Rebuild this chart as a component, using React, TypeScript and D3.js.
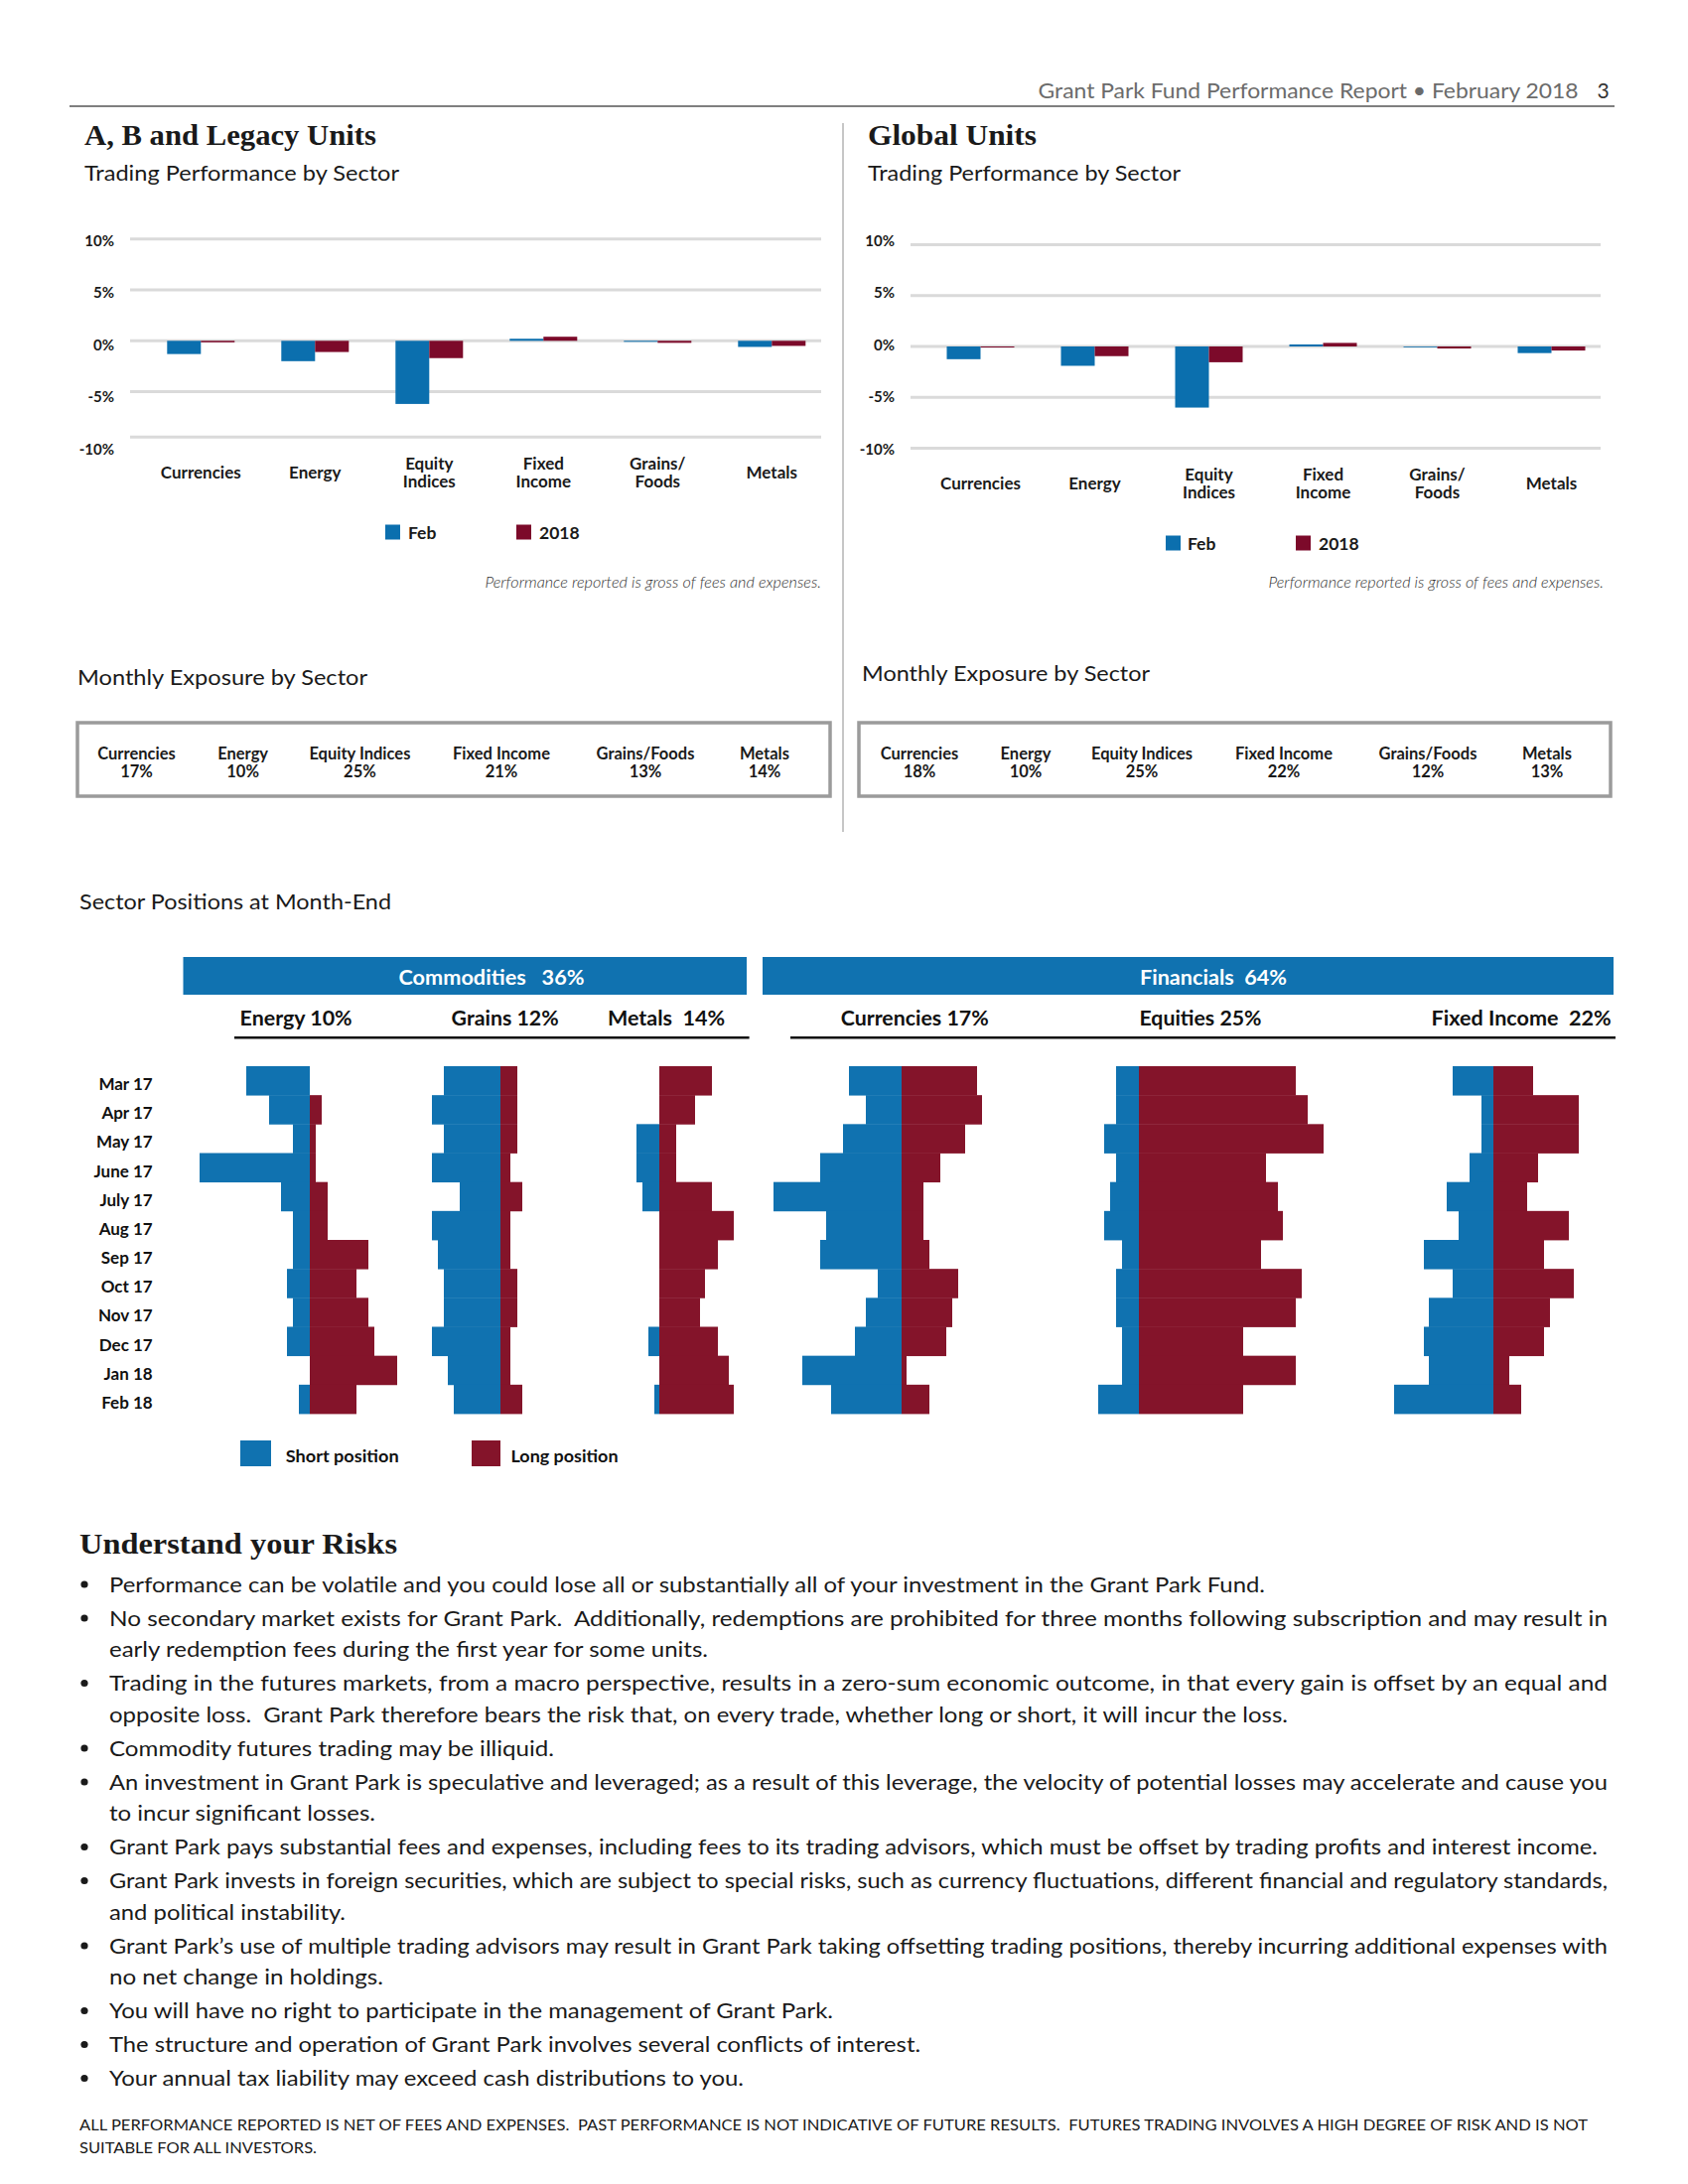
import React from "react";
import * as d3 from "d3";

const SANS = "Lato, 'Open Sans', 'DejaVu Sans', sans-serif";
const SERIF = "'Liberation Serif', 'DejaVu Serif', serif";

// ---------------- data ----------------
const PERF_SECTORS = ["Currencies", "Energy", "Equity Indices", "Fixed Income", "Grains/Foods", "Metals"];
const PERF_LABEL_LINES = [["Currencies"], ["Energy"], ["Equity", "Indices"], ["Fixed", "Income"], ["Grains/", "Foods"], ["Metals"]];
const PERF_SERIES = ["Feb", "2018"];
const AB_FEB = [-1.3, -2.0, -6.2, 0.2, -0.1, -0.6];
const AB_YTD = [-0.15, -1.1, -1.7, 0.4, -0.2, -0.5];
const GL_FEB = [-1.25, -1.9, -6.0, 0.2, -0.05, -0.65];
const GL_YTD = [-0.1, -0.95, -1.55, 0.35, -0.2, -0.4];
const PERF_TICKS = [10, 5, 0, -5, -10];

const EXPOSURE_SECTORS = ["Currencies", "Energy", "Equity Indices", "Fixed Income", "Grains/Foods", "Metals"];
const AB_EXPOSURE = [17, 10, 25, 21, 13, 14];
const GL_EXPOSURE = [18, 10, 25, 22, 12, 13];

const MONTHS = ["Mar 17", "Apr 17", "May 17", "June 17", "July 17", "Aug 17", "Sep 17", "Oct 17", "Nov 17", "Dec 17", "Jan 18", "Feb 18"];
const GROUPS = ["Commodities", "Financials"];
const GROUP_PCT = [36, 64];
const POS_SECTORS = ["Energy", "Grains", "Metals", "Currencies", "Equities", "Fixed Income"];
const POS_PCT = [10, 12, 14, 17, 25, 22];
const ENERGY_SHORT = [6.4, 4.1, 1.7, 11.1, 2.9, 1.7, 1.7, 2.3, 1.7, 2.3, 0, 1.1];
const ENERGY_LONG = [0, 1.2, 0.6, 0.6, 1.8, 1.8, 5.9, 4.7, 5.9, 6.5, 8.8, 4.7];
const GRAINS_SHORT = [5.7, 6.9, 5.7, 6.9, 4.1, 6.9, 6.3, 5.7, 5.7, 6.9, 5.3, 4.7];
const GRAINS_LONG = [1.7, 1.7, 1.7, 1.0, 2.2, 1.0, 1.0, 1.7, 1.7, 1.0, 1.0, 2.2];
const METALS_SHORT = [0, 0, 2.3, 2.3, 1.7, 0, 0, 0, 0, 1.1, 0, 0.5];
const METALS_LONG = [5.3, 3.6, 1.7, 1.7, 5.3, 7.5, 5.9, 4.6, 4.1, 5.9, 7.0, 7.5];
const CURRENCIES_SHORT = [5.3, 3.6, 5.9, 8.2, 12.9, 7.6, 8.2, 2.4, 3.6, 4.7, 10.0, 7.1];
const CURRENCIES_LONG = [7.6, 8.1, 6.4, 3.9, 2.2, 2.2, 2.8, 5.7, 5.1, 4.5, 0.5, 2.8];
const EQUITIES_SHORT = [2.3, 2.3, 3.5, 2.3, 2.9, 3.5, 1.7, 2.3, 2.3, 1.7, 1.7, 4.1];
const EQUITIES_LONG = [15.8, 17.0, 18.6, 12.8, 14.0, 14.5, 12.3, 16.4, 15.8, 10.5, 15.8, 10.5];
const FIXED_SHORT = [4.1, 1.2, 1.2, 2.4, 4.7, 3.5, 7.0, 4.1, 6.5, 7.0, 6.5, 10.0];
const FIXED_LONG = [4.0, 8.6, 8.6, 4.5, 3.4, 7.6, 5.1, 8.1, 5.7, 5.1, 1.6, 2.8];
const POS_LEGEND = ["Short position", "Long position"];

const RISK_PARAGRAPHS = [
  ["Performance can be volatile and you could lose all or substantially all of your investment in the Grant Park Fund."],
  ["No secondary market exists for Grant Park.  Additionally, redemptions are prohibited for three months following subscription and may result in", "early redemption fees during the first year for some units."],
  ["Trading in the futures markets, from a macro perspective, results in a zero-sum economic outcome, in that every gain is offset by an equal and", "opposite loss.  Grant Park therefore bears the risk that, on every trade, whether long or short, it will incur the loss."],
  ["Commodity futures trading may be illiquid."],
  ["An investment in Grant Park is speculative and leveraged; as a result of this leverage, the velocity of potential losses may accelerate and cause you", "to incur significant losses."],
  ["Grant Park pays substantial fees and expenses, including fees to its trading advisors, which must be offset by trading profits and interest income."],
  ["Grant Park invests in foreign securities, which are subject to special risks, such as currency fluctuations, different financial and regulatory standards,", "and political instability."],
  ["Grant Park\u2019s use of multiple trading advisors may result in Grant Park taking offsetting trading positions, thereby incurring additional expenses with", "no net change in holdings."],
  ["You will have no right to participate in the management of Grant Park."],
  ["The structure and operation of Grant Park involves several conflicts of interest."],
  ["Your annual tax liability may exceed cash distributions to you."],
];
const DISCLAIMER = [
  "ALL PERFORMANCE REPORTED IS NET OF FEES AND EXPENSES.  PAST PERFORMANCE IS NOT INDICATIVE OF FUTURE RESULTS.  FUTURES TRADING INVOLVES A HIGH DEGREE OF RISK AND IS NOT",
  "SUITABLE FOR ALL INVESTORS.",
];

// ---------------- layout / style ----------------
const BLUE_T = "#0b6fae";
const RED_T = "#7c0a2a";
const BLUE = "#1072b0";
const RED = "#84142a";
const GRID = "#dadada";
const INK = "#1a1a1a";

const AB_CFG = {
  gridX: [131, 827], points: [202.3, 777.3], y0: 343.3, axisMin: -9.45, labelRight: 115,
  labelRange: [452, 241.7],
  catY: 475.7, catY2: [466.7, 484.3],
  legend: { sq1: 388, t1: 411, sq2: 520, t2: 543, y: 536 },
  foot: { x: 488.4, w: 338.6, y: 592 },
};
const GL_CFG = {
  gridX: [917, 1612], points: [987.5, 1562.5], y0: 349, axisMin: -10, labelRight: 901,
  labelRange: [452, 241.7],
  catY: 486.7, catY2: [477, 495],
  legend: { sq1: 1174, t1: 1196, sq2: 1305, t2: 1328, y: 547 },
  foot: { x: 1277.5, w: 337.5, y: 592 },
};
const PX_PER_PCT = 10.26;

const EXPO_AB = { box: [78, 728, 836, 802], centers: [137.5, 244.6, 362.4, 505, 650, 770] };
const EXPO_GL = { box: [865, 728, 1622, 802], centers: [926, 1033, 1150, 1293, 1438, 1558] };

const ROW_RANGE = [1074, 1424];
const ZERO_X = [312, 504, 664, 908, 1147, 1504];
const SUB_HEAD = [
  { x: 241.6, w: 113, sep: " " }, { x: 454.6, w: 108, sep: " " }, { x: 612, w: 118, sep: "  " },
  { x: 846.7, w: 149, sep: " " }, { x: 1147.5, w: 123, sep: " " }, { x: 1441.6, w: 181, sep: "  " },
];
const GROUP_BARS = [
  { x0: 184.5, x1: 752, tx: 495, tw: 187 },
  { x0: 768, x1: 1625, tx: 1222, tw: 148 },
];
const UNDERLINES = [[236, 754.6], [796, 1627]];

const RISK_LINE_ENDS = [1274, 1619, 713, 1619, 1297, 558, 1619, 378, 1609, 1619, 348, 1619, 386, 839, 927, 749];

function PerfChart({ cfg, feb, ytd }: any) {
  const y = d3.scaleLinear().domain([-10, 10]).range([cfg.y0 + PX_PER_PCT * 10, cfg.y0 - PX_PER_PCT * 10]);
  const yl = d3.scaleLinear().domain([-10, 10]).range(cfg.labelRange);
  const x = d3.scalePoint<string>().domain(PERF_SECTORS).range(cfg.points);
  const bw = 34;
  const gridVals = PERF_TICKS.filter((t) => t > cfg.axisMin).concat([cfg.axisMin]);
  const bar = (v: number, cx: number, color: string, key: string) => {
    const y0 = y(0), y1 = y(v);
    return <rect key={key} x={cx} y={Math.min(y0, y1)} width={bw} height={Math.max(0.8, Math.abs(y1 - y0))} fill={color} />;
  };
  return (
    <g>
      {gridVals.map((t, i) => (
        <line key={"g" + i} x1={cfg.gridX[0]} x2={cfg.gridX[1]} y1={y(t)} y2={y(t)} stroke={GRID} strokeWidth={3} />
      ))}
      {PERF_TICKS.map((t) => (
        <text key={"t" + t} x={cfg.labelRight} y={yl(t)} textAnchor="end" dominantBaseline="central"
          fontFamily={SANS} fontWeight={700} fontSize={15} fill={INK}>{t + "%"}</text>
      ))}
      {PERF_SECTORS.map((s, i) => {
        const cx = x(s) as number;
        return (
          <g key={s}>
            {bar(feb[i], cx - bw, BLUE_T, "f")}
            {bar(ytd[i], cx, RED_T, "y")}
          </g>
        );
      })}
      {PERF_SECTORS.map((s, i) => {
        const lines = PERF_LABEL_LINES[i];
        const cx = x(s) as number;
        return lines.map((ln, j) => (
          <text key={s + j} x={cx} y={lines.length === 1 ? cfg.catY : cfg.catY2[j]} textAnchor="middle" dominantBaseline="central"
            fontFamily={SANS} fontWeight={700} fontSize={17} fill={INK}>{ln}</text>
        ));
      })}
      <rect x={cfg.legend.sq1} y={cfg.legend.y - 7.5} width={15} height={15} fill={BLUE_T} />
      <text x={cfg.legend.t1} y={cfg.legend.y} dominantBaseline="central" fontFamily={SANS} fontWeight={700} fontSize={17.5} fill={INK}>{PERF_SERIES[0]}</text>
      <rect x={cfg.legend.sq2} y={cfg.legend.y - 7.5} width={15} height={15} fill={RED_T} />
      <text x={cfg.legend.t2} y={cfg.legend.y} dominantBaseline="central" fontFamily={SANS} fontWeight={700} fontSize={17.5} fill={INK}>{PERF_SERIES[1]}</text>
      <text x={cfg.foot.x} y={cfg.foot.y} textLength={cfg.foot.w} lengthAdjust="spacingAndGlyphs" fontFamily={SANS}
        fontStyle="italic" fontWeight={300} fontSize={16} fill="#333">Performance reported is gross of fees and expenses.</text>
    </g>
  );
}

function ExposureBox({ cfg, values }: any) {
  const [x0, y0, x1, y1] = cfg.box;
  return (
    <g>
      <rect x={x0} y={y0} width={x1 - x0} height={y1 - y0} fill="none" stroke="#9b9b9b" strokeWidth={3.5} />
      {EXPOSURE_SECTORS.map((s, i) => (
        <g key={s}>
          <text x={cfg.centers[i]} y={759} textAnchor="middle" dominantBaseline="central" fontFamily={SANS} fontWeight={700} fontSize={16.5} fill={INK}>{s}</text>
          <text x={cfg.centers[i]} y={777} textAnchor="middle" dominantBaseline="central" fontFamily={SANS} fontWeight={700} fontSize={16.5} fill={INK}>{values[i] + "%"}</text>
        </g>
      ))}
    </g>
  );
}

function Positions() {
  const yb = d3.scaleBand<string>().domain(MONTHS).range(ROW_RANGE as [number, number]).padding(0);
  const len = d3.scaleLinear().domain([0, 1]).range([0, 10]);
  const shorts = [ENERGY_SHORT, GRAINS_SHORT, METALS_SHORT, CURRENCIES_SHORT, EQUITIES_SHORT, FIXED_SHORT];
  const longs = [ENERGY_LONG, GRAINS_LONG, METALS_LONG, CURRENCIES_LONG, EQUITIES_LONG, FIXED_LONG];
  const h = yb.bandwidth();
  return (
    <g>
      <text x={80} y={916} textLength={314} lengthAdjust="spacingAndGlyphs" fontFamily={SANS} fontSize={22} fill={INK}>Sector Positions at Month-End</text>
      {GROUPS.map((g, i) => (
        <g key={g}>
          <rect x={GROUP_BARS[i].x0} y={964} width={GROUP_BARS[i].x1 - GROUP_BARS[i].x0} height={38} fill={BLUE} />
          <text x={GROUP_BARS[i].tx - GROUP_BARS[i].tw / 2} y={983.5} textLength={GROUP_BARS[i].tw} lengthAdjust="spacingAndGlyphs"
            dominantBaseline="central" fontFamily={SANS} fontWeight={700} fontSize={20} fill="#fff" style={{ whiteSpace: "pre" }}>
            {g + (i === 0 ? "   " : "  ") + GROUP_PCT[i] + "%"}
          </text>
        </g>
      ))}
      {POS_SECTORS.map((s, i) => (
        <text key={s} x={SUB_HEAD[i].x} y={1032.7} textLength={SUB_HEAD[i].w} lengthAdjust="spacingAndGlyphs"
          fontFamily={SANS} fontWeight={700} fontSize={21} fill="#111" style={{ whiteSpace: "pre" }}>
          {s + SUB_HEAD[i].sep + POS_PCT[i] + "%"}
        </text>
      ))}
      {UNDERLINES.map((u, i) => (
        <line key={i} x1={u[0]} x2={u[1]} y1={1045.3} y2={1045.3} stroke="#111" strokeWidth={2.5} />
      ))}
      {MONTHS.map((m) => (
        <text key={m} x={153.7} y={(yb(m) as number) + h / 2 + 3} textAnchor="end" dominantBaseline="central"
          fontFamily={SANS} fontWeight={700} fontSize={17} fill="#111">{m}</text>
      ))}
      {POS_SECTORS.map((s, i) => (
        <g key={s}>
          {MONTHS.map((m, j) => {
            const yy = yb(m) as number;
            const sv = len(shorts[i][j]);
            const lv = len(longs[i][j]);
            return (
              <g key={m}>
                {sv > 0 && <rect x={ZERO_X[i] - sv} y={yy} width={sv} height={h + 0.4} fill={BLUE} />}
                {lv > 0 && <rect x={ZERO_X[i]} y={yy} width={lv} height={h + 0.4} fill={RED} />}
              </g>
            );
          })}
        </g>
      ))}
      <rect x={242} y={1451} width={31} height={26} fill={BLUE} />
      <text x={287.7} y={1466} textLength={114} lengthAdjust="spacingAndGlyphs" dominantBaseline="central" fontFamily={SANS} fontWeight={700} fontSize={17} fill="#111">{POS_LEGEND[0]}</text>
      <rect x={475} y={1451} width={29} height={26} fill={RED} />
      <text x={514.5} y={1466} textLength={108} lengthAdjust="spacingAndGlyphs" dominantBaseline="central" fontFamily={SANS} fontWeight={700} fontSize={17} fill="#111">{POS_LEGEND[1]}</text>
    </g>
  );
}

function Risks() {
  const lineH = 31.5, paraGap = 34;
  let y = 1595;
  let k = 0;
  const items: any[] = [];
  RISK_PARAGRAPHS.forEach((p, pi) => {
    if (pi > 0) y += paraGap;
    items.push(<circle key={"b" + pi} cx={85} cy={y + 1} r={3.6} fill={INK} />);
    p.forEach((ln, li) => {
      if (li > 0) y += lineH;
      const end = RISK_LINE_ENDS[k++];
      items.push(
        <text key={"l" + pi + "_" + li} x={110} y={y} textLength={end - 110} lengthAdjust="spacingAndGlyphs" dominantBaseline="central"
          fontFamily={SANS} fontSize={22} fill={INK} style={{ whiteSpace: "pre" }}>{ln}</text>
      );
    });
  });
  return (
    <g>
      <text x={80} y={1565} textLength={320} lengthAdjust="spacingAndGlyphs" fontFamily={SERIF} fontWeight={700} fontSize={29} fill={INK}>Understand your Risks</text>
      {items}
      <text x={80} y={2140} textLength={1519} lengthAdjust="spacingAndGlyphs" dominantBaseline="central" fontFamily={SANS} fontSize={15.5} fill={INK} style={{ whiteSpace: "pre" }}>{DISCLAIMER[0]}</text>
      <text x={80} y={2163} textLength={239} lengthAdjust="spacingAndGlyphs" dominantBaseline="central" fontFamily={SANS} fontSize={15.5} fill={INK}>{DISCLAIMER[1]}</text>
    </g>
  );
}

export default function App() {
  return (
    <svg width={1700} height={2200} viewBox="0 0 1700 2200" style={{ position: "absolute", left: 0, top: 0, background: "#fff" }}>
      <rect x={0} y={0} width={1700} height={2200} fill="#fff" />
      {/* page header */}
      <text x={1045.6} y={98.5} textLength={544} lengthAdjust="spacingAndGlyphs" fontFamily={SANS} fontSize={21} fill="#6b6b6b">Grant Park Fund Performance Report {"\u2022"} February 2018</text>
      <text x={1608.5} y={98.5} fontFamily={SANS} fontSize={21} fill="#333">3</text>
      <line x1={70} x2={1626} y1={107} y2={107} stroke="#555" strokeWidth={1.5} />
      <line x1={849} x2={849} y1={124} y2={838} stroke="#a0a0a0" strokeWidth={1.2} />

      {/* titles */}
      <text x={85} y={146} textLength={294} lengthAdjust="spacingAndGlyphs" fontFamily={SERIF} fontWeight={700} fontSize={30} fill={INK}>A, B and Legacy Units</text>
      <text x={85} y={182} textLength={317} lengthAdjust="spacingAndGlyphs" fontFamily={SANS} fontSize={21.5} fill={INK}>Trading Performance by Sector</text>
      <text x={874} y={146} textLength={170} lengthAdjust="spacingAndGlyphs" fontFamily={SERIF} fontWeight={700} fontSize={30} fill={INK}>Global Units</text>
      <text x={874} y={182} textLength={315} lengthAdjust="spacingAndGlyphs" fontFamily={SANS} fontSize={21.5} fill={INK}>Trading Performance by Sector</text>

      <PerfChart cfg={AB_CFG} feb={AB_FEB} ytd={AB_YTD} />
      <PerfChart cfg={GL_CFG} feb={GL_FEB} ytd={GL_YTD} />

      <text x={78} y={690} textLength={292} lengthAdjust="spacingAndGlyphs" fontFamily={SANS} fontSize={22} fill={INK}>Monthly Exposure by Sector</text>
      <text x={868} y={686} textLength={290} lengthAdjust="spacingAndGlyphs" fontFamily={SANS} fontSize={22} fill={INK}>Monthly Exposure by Sector</text>
      <ExposureBox cfg={EXPO_AB} values={AB_EXPOSURE} />
      <ExposureBox cfg={EXPO_GL} values={GL_EXPOSURE} />

      <Positions />
      <Risks />
    </svg>
  );
}
